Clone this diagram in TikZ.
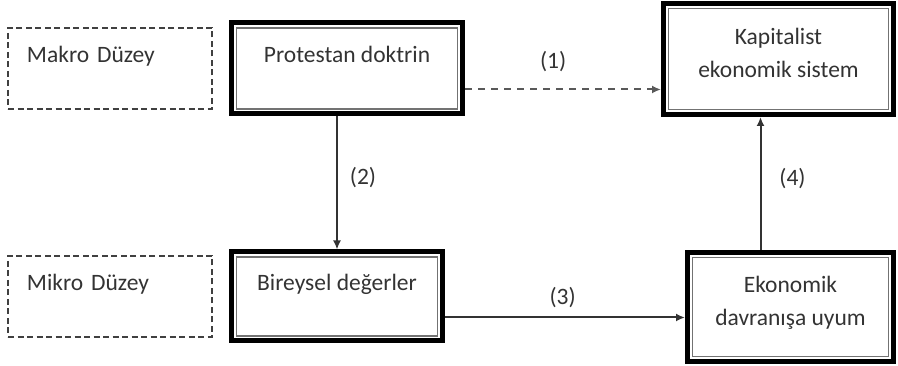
\documentclass[tikz,border=0pt]{standalone}
\usepackage{fontspec}
\setmainfont{Carlito}
\usetikzlibrary{arrows.meta,positioning}

\begin{document}
\begin{tikzpicture}[
  x=1pt, y=1pt,
  font=\fontsize{23.5}{33}\selectfont,
  every node/.style={text=black!80},
  level/.style={draw=black!75, line width=2pt, dash pattern=on 6pt off 3.5pt,
                minimum width=204pt, minimum height=81pt,
                text width=166pt, inner xsep=19pt, align=left,
                text height=16pt, text depth=28pt},
  frame/.style={draw=black, line width=5pt, align=center,
                path picture={\draw[black!55, line width=1.5pt]
                  ([shift={(5pt,-5pt)}]path picture bounding box.north west) rectangle
                  ([shift={(-5pt,5pt)}]path picture bounding box.south east);}},
  oneline/.style={frame, text height=16pt, text depth=28pt},
  twoline/.style={frame, text height=49pt, text depth=12pt},
  arrow/.style={-{Latex[length=9pt,width=8pt]}, line width=2pt, draw=black!80},
  darrow/.style={arrow, draw=black!65, dash pattern=on 7pt off 6pt},
  num/.style={inner sep=0pt}
]
\useasboundingbox (0,0) rectangle (898,366);

% ===== macro level =====
\node[level] (makro) at (110,297.5) {Makro Düzey};
\node[oneline, minimum width=231pt, minimum height=91pt, right=16pt of makro] (prot) {Protestan doktrin};
\node[twoline, minimum width=230pt, minimum height=111pt] (kap) at (778.5,307) {Kapitalist\\ekonomik sistem};

% ===== micro level =====
\node[level] (mikro) at (110,69.5) {Mikro Düzey};
\node[oneline, minimum width=211pt, minimum height=89pt, right=16pt of mikro] (bir) {Bireysel değerler};
\node[twoline, minimum width=206pt, minimum height=109pt] (eko) at (790.5,59) {Ekonomik\\davranışa uyum};

% connectors
\coordinate (d1) at ([yshift=-21pt]prot.east);
\coordinate (d3) at ([yshift=-21pt]bir.east);
\coordinate (d4) at ([xshift=-30pt]eko.north);

\draw[darrow] (d1) -- node[num, pos=0.45, yshift=28pt] {(1)} (d1 -| kap.west);
\draw[arrow] (prot.south -| bir.north) -- node[num, pos=0.46, xshift=26pt] {(2)} (bir.north);
\draw[arrow] (d3) -- node[num, pos=0.49, yshift=20pt] {(3)} (d3 -| eko.west);
\draw[arrow] (d4) -- node[num, pos=0.54, xshift=32pt] {(4)} (d4 |- kap.south);

\end{tikzpicture}
\end{document}
